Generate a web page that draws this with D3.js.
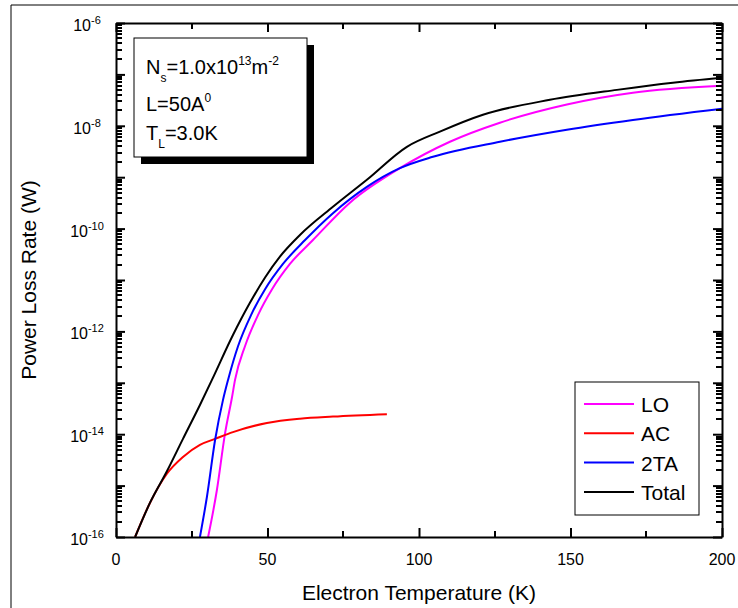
<!DOCTYPE html>
<html>
<head>
<meta charset="utf-8">
<script src="https://cdn.jsdelivr.net/npm/d3@7"></script>
<style>
  body { margin: 0; background: #fff; }
  svg { display: block; font-family: Arial, 'Liberation Sans', sans-serif; }
</style>
</head>
<body>
<svg id="chart"></svg>
<script>
// Electron temperature (K) and power loss rate (W) per mechanism
const loT  = [30.4, 33.3, 36.0, 38.3, 39.3, 42.6, 46.9, 51.5, 57.4, 65.0, 77.2, 93.7, 110.2, 126.7, 148.8, 170.6, 200];
const loP  = [1e-16, 8.2e-16, 1.05e-14, 5.3e-14, 1.15e-13, 5.2e-13, 2.1e-12, 6.6e-12, 2.05e-11, 6.0e-11, 3.2e-10, 1.5e-9, 4.9e-9, 1.15e-8, 2.6e-8, 4.4e-8, 6.0e-8];

const acT  = [6.3, 11.2, 16.8, 22.1, 27.7, 32.7, 38.6, 49.8, 60.7, 71.6, 89.4];
const acP  = [1e-16, 4.6e-16, 1.7e-15, 3.6e-15, 6.2e-15, 8.1e-15, 1.1e-14, 1.65e-14, 2.0e-14, 2.2e-14, 2.45e-14];

const taT  = [27.7, 30.0, 32.7, 35.3, 37.0, 40.3, 44.6, 49.2, 55.1, 62.4, 71.6, 82.8, 93.7, 104.6, 126.7, 148.8, 170.6, 200];
const taP  = [1e-16, 6.0e-16, 7.7e-15, 4.6e-14, 1.15e-13, 5.2e-13, 2.1e-12, 6.6e-12, 2.05e-11, 6.0e-11, 2.0e-10, 6.5e-10, 1.5e-9, 2.5e-9, 4.9e-9, 8.4e-9, 1.3e-8, 2.15e-8];

const totT = [6.3, 11.2, 16.8, 22.1, 27.7, 31.7, 38.6, 44.2, 49.2, 54.1, 60.7, 71.6, 82.8, 96.0, 106.9, 121.1, 143.2, 165.3, 183.8, 200];
const totP = [1e-16, 4.6e-16, 1.9e-15, 8.1e-15, 3.7e-14, 1.15e-13, 8.5e-13, 3.6e-12, 1.12e-11, 2.85e-11, 7.5e-11, 2.65e-10, 8.9e-10, 3.9e-9, 7.7e-9, 1.64e-8, 3.2e-8, 5.0e-8, 6.9e-8, 8.6e-8];

const series = [
    { label: 'LO',    color: '#ff00ff', t: loT,  p: loP  },
    { label: 'AC',    color: '#ff0000', t: acT,  p: acP  },
    { label: '2TA',   color: '#0000ff', t: taT,  p: taP  },
    { label: 'Total', color: '#000000', t: totT, p: totP }
];

const xMajor = [0, 50, 100, 150, 200];
const xMinor = [25, 75, 125, 175];
const yLabelExps = [-6, -8, -10, -12, -14, -16];

const W = 738, H = 608;
const MARGIN = { top: 23, right: 16, bottom: 71, left: 116 };

const svg = d3.select('#chart').attr('width', W).attr('height', H);

const x = d3.scaleLinear().domain([0, 200]).range([MARGIN.left, W - MARGIN.right]);
const y = d3.scaleLog().domain([1e-16, 1e-6]).range([H - MARGIN.bottom, MARGIN.top]);

const [x0, x1] = x.range();
const [yb, yt] = y.range();

// outer frame (only top/left visible in the crop)
svg.append('path')
    .attr('d', `M11,${H} V5 H${W}`)
    .attr('fill', 'none').attr('stroke', '#000').attr('stroke-width', 1);

// curves
const line = d3.line()
    .x(d => x(d[0]))
    .y(d => y(d[1]))
    .curve(d3.curveMonotoneX);

series.forEach(s => {
    svg.append('path')
        .datum(s.t.map((t, i) => [t, s.p[i]]))
        .attr('fill', 'none')
        .attr('stroke', s.color)
        .attr('stroke-width', 2)
        .attr('d', line);
});

// tick values
const decades = d3.range(-16, -5);
const yMajor = decades.map(e => Math.pow(10, e));
const yMinor = decades.slice(0, -1).flatMap(e => d3.range(2, 10).map(k => k * Math.pow(10, e)));

// minor ticks, inward on all four sides
const minor = svg.append('g')
    .attr('stroke', '#000')
    .attr('stroke-width', 2)
    .attr('shape-rendering', 'crispEdges');
const ML = 6;
minor.selectAll('.mxb').data(xMinor).join('line').attr('class', 'mxb')
    .attr('x1', d => x(d)).attr('x2', d => x(d)).attr('y1', yb).attr('y2', yb - ML);
minor.selectAll('.mxt').data(xMinor).join('line').attr('class', 'mxt')
    .attr('x1', d => x(d)).attr('x2', d => x(d)).attr('y1', yt).attr('y2', yt + ML);
minor.selectAll('.myl').data(yMinor).join('line').attr('class', 'myl')
    .attr('y1', d => y(d)).attr('y2', d => y(d)).attr('x1', x0).attr('x2', x0 + ML);
minor.selectAll('.myr').data(yMinor).join('line').attr('class', 'myr')
    .attr('y1', d => y(d)).attr('y2', d => y(d)).attr('x1', x1).attr('x2', x1 - ML);

// major ticks and axis lines
function drawAxis(axisFn, scale, transform, vals, size) {
    const g = svg.append('g')
        .attr('transform', transform)
        .call(axisFn(scale).tickValues(vals).tickSizeInner(-size).tickSizeOuter(0).tickFormat(() => ''));
    g.selectAll('.tick line').attr('stroke', '#000').attr('stroke-width', 2);
    g.select('.domain').attr('stroke-width', 2);
    return g;
}

drawAxis(d3.axisBottom, x, `translate(0,${yb})`, xMajor, 9);
drawAxis(d3.axisTop,    x, `translate(0,${yt})`, xMajor, 9);
drawAxis(d3.axisLeft,   y, `translate(${x0},0)`, yMajor, 9);
drawAxis(d3.axisRight,  y, `translate(${x1},0)`, yMajor, 9);

// tick labels
svg.append('g').selectAll('text')
    .data(xMajor)
    .join('text')
    .attr('x', d => x(d))
    .attr('y', yb + 28)
    .attr('text-anchor', 'middle')
    .attr('font-size', 16)
    .text(d => d);

const yl = svg.append('g').selectAll('text')
    .data(yLabelExps)
    .join('text')
    .attr('x', 87)
    .attr('y', d => y(Math.pow(10, d)) + 8)
    .attr('text-anchor', 'middle')
    .attr('font-size', 16);
yl.append('tspan').text('10');
yl.append('tspan').attr('dy', -7).attr('font-size', 11).text(d => d);

// axis titles
svg.append('text')
    .attr('x', (x0 + x1) / 2)
    .attr('y', 600)
    .attr('text-anchor', 'middle')
    .attr('font-size', 21)
    .text('Electron Temperature (K)');

svg.append('text')
    .attr('transform', `translate(36,${(yb + yt) / 2}) rotate(-90)`)
    .attr('text-anchor', 'middle')
    .attr('font-size', 21)
    .text('Power Loss Rate (W)');

// parameter box with drop shadow
svg.append('rect').attr('x', 141).attr('y', 45).attr('width', 173).attr('height', 119).attr('fill', '#000');
svg.append('rect').attr('x', 134).attr('y', 38).attr('width', 173).attr('height', 119)
    .attr('fill', '#fff').attr('stroke', '#000').attr('stroke-width', 1);

const box = svg.append('g').attr('font-size', 20);
const t1 = box.append('text').attr('x', 146).attr('y', 74);
t1.append('tspan').text('N');
t1.append('tspan').attr('dy', 8).attr('font-size', 12).text('s');
t1.append('tspan').attr('dy', -8).text('=1.0x10');
t1.append('tspan').attr('dy', -9).attr('font-size', 12).text('13');
t1.append('tspan').attr('dy', 9).text('m');
t1.append('tspan').attr('dy', -9).attr('font-size', 12).text('-2');

const t2 = box.append('text').attr('x', 146).attr('y', 111);
t2.append('tspan').text('L=50A');
t2.append('tspan').attr('dy', -9).attr('font-size', 12).text('0');

const t3 = box.append('text').attr('x', 146).attr('y', 140);
t3.append('tspan').text('T');
t3.append('tspan').attr('dy', 8).attr('font-size', 12).text('L');
t3.append('tspan').attr('dy', -8).text('=3.0K');

// legend
svg.append('rect').attr('x', 575).attr('y', 382).attr('width', 124).attr('height', 133)
    .attr('fill', '#fff').attr('stroke', '#000').attr('stroke-width', 1);

const leg = svg.append('g').selectAll('g')
    .data(series)
    .join('g')
    .attr('transform', (d, i) => `translate(0,${404 + i * 29.3})`);
leg.append('line')
    .attr('x1', 584).attr('x2', 634)
    .attr('stroke', d => d.color).attr('stroke-width', 2);
leg.append('text')
    .attr('x', 641).attr('y', 8)
    .attr('font-size', 21)
    .text(d => d.label);
</script>
</body>
</html>
